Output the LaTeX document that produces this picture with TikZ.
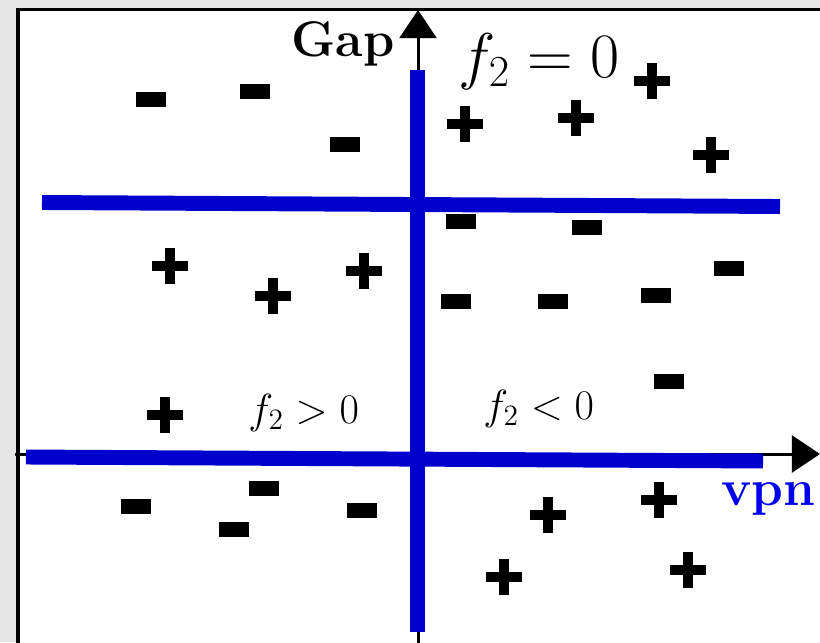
\RequirePackage{fix-cm}
\documentclass[tikz,border=0pt]{standalone}
\usetikzlibrary{arrows.meta}
\definecolor{linesblue}{RGB}{0,0,204}
\definecolor{labelblue}{RGB}{0,0,235}
\definecolor{bggrey}{RGB}{230,230,230}

\begin{document}
\begin{tikzpicture}[x=0.02cm,y=-0.02cm,
axis/.style={line width=1.7pt,-{Triangle[length=16pt,width=21pt]}},
divider/.style={linesblue,line width=8.5pt},
lbl/.style={inner sep=0pt,anchor=base west}]
\useasboundingbox (0,0) rectangle (820,642);
\clip (0,0) rectangle (820,642);
% Sfondo e cornice
\fill[bggrey] (0,0) rectangle (820,642);
\fill[white] (18,9.5) rectangle (830,660);
\draw[line width=2pt] (18,660) -- (18,9.5) -- (830,9.5);
% Assi
\coordinate (yb) at (418,660);
\coordinate (yt) at (418,10);
\coordinate (xl) at (15,454);
\coordinate (xr) at (820,454);
\draw[axis] (yb) -- (yt);
\draw[axis] (xl) -- (xr);
% Linee di separazione
\coordinate (u1) at (42,202.5);
\coordinate (u2) at (780,206.5);
\coordinate (l1) at (26,457);
\coordinate (l2) at (763,461);
\coordinate (v1) at (417.5,70);
\coordinate (v2) at (417.5,632);
\draw[divider] (u1) -- (u2);
\draw[divider] (l1) -- (l2);
\draw[divider] (v1) -- (v2);
% Segni meno
\foreach \x/\y in {151/99.5,255/91.5,345/144,461/221,587/227,729/268,
  456/301,553/301,656/295,669/381,136/506.5,264/488.5,234/529.5,362/510}
  \fill (\x-15,\y-7.5) rectangle (\x+15,\y+7.5);
% Segni piu
\foreach \x/\y in {652/81,465/124,576/118,711/155,170/266,273/296,364/271,
  164.5/415,548/515,658.5/499.5,504/577,688/570}
  {\fill (\x-18,\y-5) rectangle (\x+18,\y+5);
   \fill (\x-5,\y-18) rectangle (\x+5,\y+18);}
% Etichette
\node[lbl,font=\bfseries\fontsize{28.5}{32}\selectfont] (gap) at (291,57) {Gap};
\node[lbl,font=\fontsize{36}{42}\selectfont] (fzero) at (458,77) {$f_2=0$};
\node[lbl,font=\fontsize{24}{28}\selectfont] (fpos) at (248,423) {$f_2>0$};
\node[lbl,font=\fontsize{24}{28}\selectfont] (fneg) at (483,419) {$f_2<0$};
\node[lbl,text=labelblue,font=\bfseries\fontsize{29}{34}\selectfont] (vpn) at (721,505) {vpn};
\end{tikzpicture}
\end{document}
